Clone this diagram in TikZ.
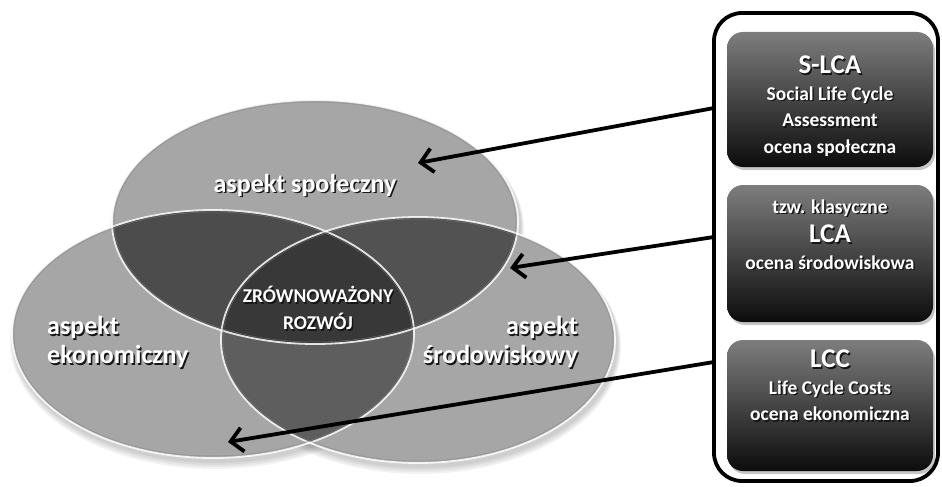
\documentclass[tikz,border=0pt]{standalone}
\usepackage{fontspec}
\setmainfont{Carlito}
\usetikzlibrary{arrows.meta,shadows}

% grey tones of the Venn regions
\definecolor{vsingle}{RGB}{166,166,166}
\definecolor{vsocleft}{RGB}{76,76,76}
\definecolor{vsocright}{RGB}{82,82,82}
\definecolor{vleftright}{RGB}{94,94,94}
\definecolor{vcore}{RGB}{56,56,56}
\definecolor{boxtop}{RGB}{125,125,125}
\definecolor{boxmid}{RGB}{48,48,48}
\definecolor{boxbot}{RGB}{12,12,12}
\definecolor{shadowc}{RGB}{22,22,22}

% the three circles of sustainable development
\newcommand\ellSoc{(315,222) ellipse [x radius=203pt, y radius=122pt]}
\newcommand\ellEko{(213,334) ellipse [x radius=201pt, y radius=124pt]}
\newcommand\ellSro{(418,340) ellipse [x radius=197pt, y radius=123pt]}

% one line of white text with a dark drop shadow behind it
\newcommand\shd[1]{\leavevmode\rlap{\kern1.5pt\raisebox{-1.5pt}{\color{shadowc}#1}}#1}

\begin{document}
\begin{tikzpicture}[x=1pt,y=-1pt,
  lbl/.style={text=white,font=\bfseries\fontsize{26}{29}\selectfont,inner sep=0pt},
  small/.style={font=\bfseries\fontsize{19.5}{26.5}\selectfont},
  rim/.style={draw=white,line width=1.8pt,draw opacity=0.85},
  kbox/.style={rounded corners=16pt,top color=boxtop,middle color=boxmid,
    bottom color=boxbot,minimum width=206pt,inner sep=0pt,
    drop shadow={shadow xshift=2pt,shadow yshift=-3pt,opacity=0.45}},
  arr/.style={line width=3.8pt,-{Straight Barb[length=12pt,width=24pt]}}]
\useasboundingbox (0,0) rectangle (942,487);

% soft shadow under the circles
\foreach \k in {1,...,4}{
  \fill[black,opacity=0.05] ([shift={(2,3+\k)}]315,222) ellipse [x radius=203pt+\k pt, y radius=122pt+\k pt];
  \fill[black,opacity=0.05] ([shift={(2,3+\k)}]213,334) ellipse [x radius=201pt+\k pt, y radius=124pt+\k pt];
  \fill[black,opacity=0.05] ([shift={(2,3+\k)}]418,340) ellipse [x radius=197pt+\k pt, y radius=123pt+\k pt];
}

% circle bodies
\fill[vsingle] \ellSoc;
\fill[vsingle] \ellEko;
\fill[vsingle] \ellSro;

% pairwise overlaps
\begin{scope}\clip \ellSoc; \fill[vsocleft] \ellEko; \end{scope}
\begin{scope}\clip \ellSoc; \fill[vsocright] \ellSro; \end{scope}
\begin{scope}\clip \ellEko; \fill[vleftright] \ellSro; \end{scope}
% common part
\begin{scope}\clip \ellSoc; \clip \ellEko; \fill[vcore] \ellSro; \end{scope}

% glossy rims
\draw[rim] \ellSoc;
\draw[rim] \ellEko;
\draw[rim] \ellSro;
\draw[gray,line width=0.5pt,opacity=0.6] (315,222) ellipse [x radius=201pt, y radius=120pt];
\draw[gray,line width=0.5pt,opacity=0.6] (213,334) ellipse [x radius=199pt, y radius=122pt];
\draw[gray,line width=0.5pt,opacity=0.6] (418,340) ellipse [x radius=195pt, y radius=121pt];

% circle labels
\node[lbl] (soc) at (305,186) {\shd{aspekt społeczny}};
\node[lbl,anchor=west,align=left] (eko) at (47,343) {\shd{aspekt}\\\shd{ekonomiczny}};
\node[lbl,anchor=east,align=right] (sro) at (578,343) {\shd{aspekt}\\\shd{środowiskowy}};
\node[lbl,align=center,font=\bfseries\fontsize{19.5}{27}\selectfont] (core) at (318,309)
  {\shd{ZRÓWNOWAŻONY}\\\shd{ROZWÓJ}};

% panel with the three assessment methods
\node[draw,line width=3.8pt,rounded corners=28pt,minimum width=224pt,
  minimum height=468pt,inner sep=0pt] (panel) at (826,247) {};
\node[kbox,minimum height=135pt] (slca) at (830,99.5) {};
\node[kbox,minimum height=137pt] (lca) at (830,253.5) {};
\node[kbox,minimum height=131pt] (lcc) at (830,405.5) {};

\node[lbl,align=center,small] (slcat) at (830,107)
  {\shd{{\fontsize{27}{27}\selectfont S-LCA}}\\\shd{Social Life Cycle}\\\shd{Assessment}\\\shd{ocena społeczna}};
\node[lbl,align=center,small] (lcat) at (830,235)
  {\shd{tzw. klasyczne}\\[3pt]\shd{{\fontsize{27}{27}\selectfont LCA}}\\\shd{ocena środowiskowa}};
\node[lbl,align=center,small] (lcct) at (830,386)
  {\shd{{\fontsize{27}{27}\selectfont LCC}}\\\shd{Life Cycle Costs}\\\shd{ocena ekonomiczna}};

% connectors from the panel into the circles
\coordinate (s1) at (714,108);
\coordinate (s2) at (714,237);
\coordinate (s3) at (714,362);
\coordinate (e1) at (418,163);
\coordinate (e2) at (510,268);
\coordinate (e3) at (228,442);
\draw[arr] (s1) -- (e1);
\draw[arr] (s2) -- (e2);
\draw[arr] (s3) -- (e3);
\end{tikzpicture}
\end{document}
